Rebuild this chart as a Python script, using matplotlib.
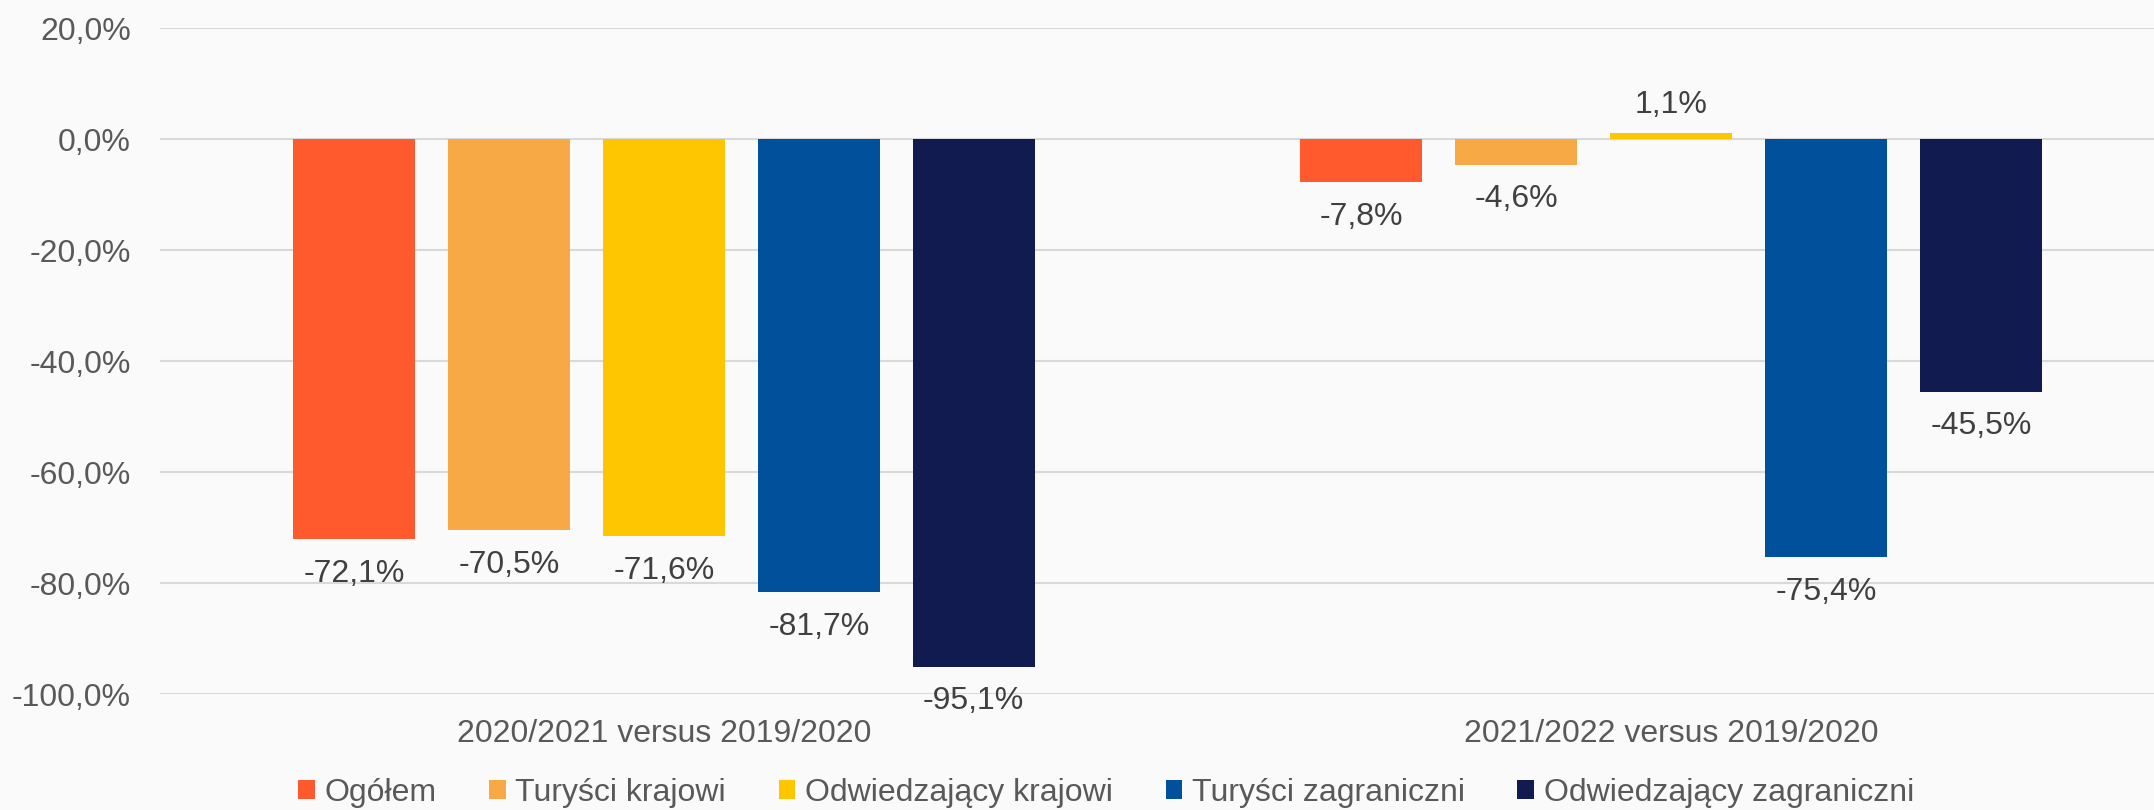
import matplotlib.pyplot as plt
import numpy as np

plt.rcParams['font.family'] = ['Liberation Sans', 'DejaVu Sans']

# data
categories = ['2020/2021 versus 2019/2020', '2021/2022 versus 2019/2020']
series = ['Ogółem', 'Turyści krajowi', 'Odwiedzający krajowi',
          'Turyści zagraniczni', 'Odwiedzający zagraniczni']
ogolem = [-72.1, -7.8]
turysci_krajowi = [-70.5, -4.6]
odwiedzajacy_krajowi = [-71.6, 1.1]
turysci_zagraniczni = [-81.7, -75.4]
odwiedzajacy_zagraniczni = [-95.1, -45.5]
values = [ogolem, turysci_krajowi, odwiedzajacy_krajowi,
          turysci_zagraniczni, odwiedzajacy_zagraniczni]
colors = ['#FF5A2E', '#F6A945', '#FDC600', '#00509C', '#121B4F']
yticks = [20, 0, -20, -40, -60, -80, -100]


def pct(v):
    return f'{v:.1f}'.replace('.', ',') + '%'


fig = plt.figure(figsize=(21.54, 8.10), dpi=100, facecolor='#FAFAFA')
ax = fig.add_axes([0.0743, 0.1432, 0.9257, 0.8222])
ax.set_facecolor('#FAFAFA')

x = np.arange(len(categories))
pitch = 0.1538
width = 0.121
fs = 23
for i, (name, vals, col) in enumerate(zip(series, values, colors)):
    pos = x + (i - 2) * pitch
    bars = ax.bar(pos, vals, width, color=col, label=name, zorder=3)
    for b, v in zip(bars, vals):
        # negative values labelled under the bar end, positive above
        if v < 0:
            ax.annotate(pct(v), (b.get_x() + b.get_width() / 2, v),
                        xytext=(0, -14), textcoords='offset points',
                        ha='center', va='top', fontsize=fs, color='#404040')
        else:
            ax.annotate(pct(v), (b.get_x() + b.get_width() / 2, v),
                        xytext=(0, 9), textcoords='offset points',
                        ha='center', va='bottom', fontsize=fs, color='#404040')

ax.set_ylim(-100, 20)
ax.set_xlim(-0.5, 1.479)
ax.set_yticks(yticks)
ax.set_yticklabels([pct(t) for t in yticks])
ax.set_xticks(x)
ax.set_xticklabels(categories)
ax.tick_params(axis='y', length=0, pad=21, labelsize=fs, labelcolor='#595959')
ax.tick_params(axis='x', length=0, pad=18, labelsize=fs, labelcolor='#595959')
ax.grid(axis='y', color='#D9D9D9', linewidth=1.5, zorder=0)
for s in ax.spines.values():
    s.set_visible(False)

fig.legend(loc='center', bbox_to_anchor=(0.5135, 0.021), ncol=5, frameon=False,
           fontsize=fs, labelcolor='#595959', handlelength=0.52,
           handleheight=0.52, handletextpad=0.3, columnspacing=1.65)

fig.savefig('out.png', dpi=100, facecolor=fig.get_facecolor())
